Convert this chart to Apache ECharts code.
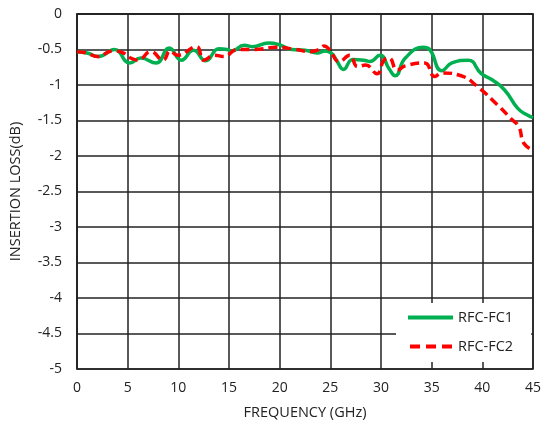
<!DOCTYPE html>
<html>
<head>
<meta charset="utf-8">
<script src="https://cdn.jsdelivr.net/npm/echarts@6/dist/echarts.min.js"></script>
<style>html,body{margin:0;padding:0;background:#fff}#c{width:544px;height:425px}</style>
</head>
<body>
<div id="c"></div>
<script>
var xTicks = [0, 5, 10, 15, 20, 25, 30, 35, 40, 45];
var yTicks = [0, -0.5, -1, -1.5, -2, -2.5, -3, -3.5, -4, -4.5, -5];

var fc1Freq = [0, 1, 2.1, 3.7, 5.2, 6.3, 7.8, 9.1, 10.3, 11.5, 12.7, 14, 14.8, 15.3, 16.5, 17.3, 18.9, 19.9, 21.2, 22.5, 23.7, 24.5, 25.1, 25.6, 26.3, 27.2, 28.3, 28.9, 29.9, 30.8, 31.4, 32.4, 34.2, 34.8, 36, 37, 38.6, 39.9, 41, 42.2, 43.5, 44.4, 45];
var fc1Loss = [-0.53, -0.55, -0.6, -0.5, -0.69, -0.62, -0.69, -0.48, -0.65, -0.51, -0.66, -0.49, -0.5, -0.52, -0.44, -0.46, -0.41, -0.43, -0.5, -0.51, -0.55, -0.52, -0.55, -0.65, -0.78, -0.64, -0.65, -0.67, -0.58, -0.77, -0.87, -0.62, -0.47, -0.5, -0.8, -0.69, -0.65, -0.84, -0.93, -1.07, -1.33, -1.42, -1.46];

var fc2Freq = [0, 1, 2, 3.5, 4.6, 5.3, 6, 7.3, 8.5, 9.2, 9.9, 11.8, 12.5, 13.6, 14.5, 15.8, 17.4, 19.7, 21.6, 23, 23.9, 24.4, 24.9, 25.9, 26.9, 27.7, 28.5, 29.6, 30.3, 30.8, 31.6, 32.4, 34.3, 35.3, 36, 37.9, 39.5, 41.5, 42.8, 43.6, 44.1, 45];
var fc2Loss = [-0.53, -0.55, -0.6, -0.52, -0.55, -0.62, -0.65, -0.53, -0.65, -0.52, -0.58, -0.46, -0.65, -0.58, -0.6, -0.5, -0.5, -0.47, -0.5, -0.53, -0.5, -0.45, -0.5, -0.67, -0.58, -0.74, -0.72, -0.84, -0.65, -0.62, -0.79, -0.73, -0.69, -0.88, -0.83, -0.87, -1.02, -1.28, -1.47, -1.59, -1.82, -1.92];

function pairs(xs, ys) { return xs.map(function (x, i) { return [x, ys[i]]; }); }

var font = 'Open Sans, Liberation Sans, sans-serif';
var chart = echarts.init(document.getElementById('c'), null, {renderer: 'canvas'});
chart.setOption({
  backgroundColor: '#fff',
  animation: false,
  grid: {left: 75, right: 8, top: 14, bottom: 56, containLabel: false,
         show: true, borderColor: '#222', borderWidth: 1.5},
  xAxis: {
    type: 'value', min: xTicks[0], max: xTicks[xTicks.length - 1], interval: 5,
    name: 'FREQUENCY (GHz)', nameLocation: 'middle', nameGap: 36,
    nameTextStyle: {fontFamily: font, fontSize: 14.5, color: '#222'},
    axisLine: {show: true, lineStyle: {color: '#222', width: 1.5}},
    axisTick: {show: false},
    axisLabel: {fontFamily: font, fontSize: 14, color: '#222', margin: 12},
    splitLine: {show: true, lineStyle: {color: '#222', width: 1.5}}
  },
  yAxis: {
    type: 'value', min: yTicks[yTicks.length - 1], max: yTicks[0], interval: 0.5,
    name: 'INSERTION LOSS(dB)', nameLocation: 'middle', nameGap: 54,
    nameTextStyle: {fontFamily: font, fontSize: 14.5, color: '#222'},
    axisLine: {show: true, lineStyle: {color: '#222', width: 1.5}},
    axisTick: {show: false},
    axisLabel: {fontFamily: font, fontSize: 14, color: '#222', margin: 15},
    splitLine: {show: true, lineStyle: {color: '#222', width: 1.5}}
  },
  legend: {
    orient: 'vertical', left: 396, top: 303,
    backgroundColor: '#fff', padding: [7, 18, 8, 10], itemGap: 14,
    itemWidth: 45, itemHeight: 12,
    itemStyle: {opacity: 0},
    textStyle: {fontFamily: font, fontSize: 14.5, color: '#222'},
    data: [
      {name: 'RFC-FC1', lineStyle: {width: 4}},
      {name: 'RFC-FC2', lineStyle: {width: 4, type: [10, 6], dashOffset: -2}}
    ]
  },
  series: [
    {name: 'RFC-FC1', type: 'line', data: pairs(fc1Freq, fc1Loss), smooth: 0.5,
     showSymbol: false, symbol: 'none', lineStyle: {color: '#00B050', width: 3.5},
     itemStyle: {color: '#00B050'}, z: 3},
    {name: 'RFC-FC2', type: 'line', data: pairs(fc2Freq, fc2Loss), smooth: 0.5,
     showSymbol: false, symbol: 'none', lineStyle: {color: '#FF0000', width: 3.5, type: [9, 5]},
     itemStyle: {color: '#FF0000'}, z: 4}
  ]
});
</script>
</body>
</html>
